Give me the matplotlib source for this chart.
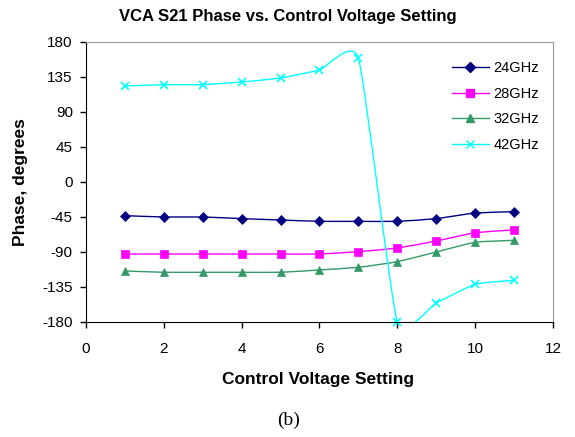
import numpy as np
import matplotlib
matplotlib.use("Agg")
import matplotlib.pyplot as plt
from matplotlib.path import Path
from matplotlib.patches import PathPatch

plt.rcParams['font.family'] = ['Liberation Sans', 'DejaVu Sans']
plt.rcParams['axes.unicode_minus'] = False

voltage = [1, 2, 3, 4, 5, 6, 7, 8, 9, 10, 11]
ph_24 = [-43.3, -45, -45, -47.1, -48.9, -50.6, -50.6, -50.6, -47.1, -39.9, -38.2]
ph_28 = [-92.6, -92.6, -92.6, -92.6, -92.6, -92.6, -89.6, -84.9, -75.9, -65.2, -61.7]
ph_32 = [-114.4, -116.1, -116.1, -116.1, -116.1, -113.1, -109.7, -102.5, -90, -77.5, -75.0]
ph_42 = [123.4, 125.1, 125.1, 128.6, 133.7, 144, 159.5, -180, -155.6, -131.5, -126.4]

series = [("24GHz", ph_24, "#000080", "D", 5),
          ("28GHz", ph_28, "#FF00FF", "s", 6),
          ("32GHz", ph_32, "#339966", "^", 6),
          ("42GHz", ph_42, "#00FFFF", "x", 6)]


def smooth_path(x, y, t=1/6.):
    # excel-style smoothed line as cubic bezier segments
    pts = np.column_stack([x, y]).astype(float)
    verts = [pts[0]]
    codes = [Path.MOVETO]
    n = len(pts)
    for i in range(n - 1):
        p0 = pts[i - 1] if i > 0 else pts[i]
        p1 = pts[i]
        p2 = pts[i + 1]
        p3 = pts[i + 2] if i + 2 < n else pts[i + 1]
        c1 = p1 + (p2 - p0) * t
        c2 = p2 - (p3 - p1) * t
        verts += [c1, c2, p2]
        codes += [Path.CURVE4] * 3
    return Path(verts, codes)


fig = plt.figure(figsize=(5.75, 4.37), dpi=100)
ax = fig.add_axes([0.1496, 0.2632, 0.812, 0.6407])

for name, vals, col, mk, ms in series:
    patch = PathPatch(smooth_path(voltage, vals, 0.08), facecolor='none',
                      edgecolor=col, lw=1.0)
    ax.add_patch(patch)
    ax.plot(voltage, vals, linestyle='none', marker=mk, color=col,
            markersize=ms, markeredgewidth=1.2 if mk == 'x' else 0.5,
            clip_on=False)
    ax.plot([], [], color=col, marker=mk, markersize=ms, lw=1.0, label=name)

ax.set_xlim(0, 12)
ax.set_ylim(-180, 180)
ax.set_xticks(range(0, 13, 2))
ax.set_yticks(range(-180, 181, 45))
ax.tick_params(direction='out', length=4, labelsize=11, width=1)
ax.tick_params(axis='x', pad=10.5)
ax.tick_params(axis='y', pad=5.5)
for s in ['top', 'right']:
    ax.spines[s].set_color('#999999')
for s in ['left', 'bottom']:
    ax.spines[s].set_color('black')

fig.text(0.5, 0.963, "VCA S21 Phase vs. Control Voltage Setting", fontsize=12,
         fontweight='bold', ha='center', va='center')
fig.text(0.553, 0.132, "Control Voltage Setting", fontsize=12.5,
         fontweight='bold', ha='center', va='center')
fig.text(0.035, 0.583, "Phase, degrees", fontsize=12.5, fontweight='bold',
         rotation=90, ha='center', va='center')

ax.legend(loc='upper left', bbox_to_anchor=(0.756, 0.979), frameon=False,
          fontsize=10.5, handlelength=2.5, handletextpad=0.34, labelspacing=0.8)

fig.text(0.501, 0.039, "(b)", ha='center', va='center', fontsize=14,
         family=['Liberation Serif', 'DejaVu Serif'])

fig.savefig("out.png", dpi=100)
